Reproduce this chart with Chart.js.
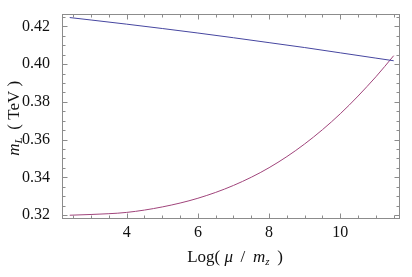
<!DOCTYPE html>
<html>
<head>
<meta charset="utf-8">
<script src="https://cdn.jsdelivr.net/npm/chart.js@4/dist/chart.umd.min.js"></script>
<style>
html,body{margin:0;padding:0;background:#fff;}
#wrap{width:412px;height:277px;}
</style>
</head>
<body>
<div id="wrap"><canvas id="c" width="412" height="277"></canvas></div>
<script>
// Data
const xValues   = [2.4, 3, 4, 5, 6, 7, 8, 9, 10, 11, 11.5];
const blueLine  = [0.4247, 0.4234, 0.4212, 0.4189, 0.4165, 0.4140, 0.4114, 0.4088, 0.4060, 0.4032, 0.4018];
const redCurve  = [0.3199, 0.3203, 0.3214, 0.3243, 0.3289, 0.3357, 0.3451, 0.3577, 0.3737, 0.3933, 0.4045];
const xTicks    = [4, 6, 8, 10];
const yTicks    = [0.32, 0.34, 0.36, 0.38, 0.40, 0.42];
const xMinor    = [2.5, 3, 3.5, 4.5, 5, 5.5, 6.5, 7, 7.5, 8.5, 9, 9.5, 10.5, 11, 11.5];
const yMinor    = [0.325, 0.33, 0.335, 0.345, 0.35, 0.355, 0.365, 0.37, 0.375, 0.385, 0.39, 0.395, 0.405, 0.41, 0.415, 0.425];

const SERIF = '"Liberation Serif", "Times New Roman", serif';
const pts = ys => xValues.map((x, i) => ({x: x, y: ys[i]}));

const framePlugin = {
  id: 'frame',
  afterDraw(chart) {
    const ctx = chart.ctx, a = chart.chartArea;
    const xs = chart.scales.x, ys = chart.scales.y;
    ctx.save();
    ctx.strokeStyle = '#8c8c8c';
    ctx.lineWidth = 1;
    const L = Math.round(a.left) + 0.5, R = Math.round(a.right) - 0.5;
    const T = Math.round(a.top) + 0.5, B = Math.round(a.bottom) - 0.5;
    ctx.strokeRect(L, T, R - L, B - T);
    ctx.beginPath();
    const xt = (v, len) => {
      const p = Math.round(xs.getPixelForValue(v)) + 0.5;
      ctx.moveTo(p, B); ctx.lineTo(p, B - len);
      ctx.moveTo(p, T); ctx.lineTo(p, T + len);
    };
    const yt = (v, len) => {
      const p = Math.round(ys.getPixelForValue(v)) + 0.5;
      ctx.moveTo(L, p); ctx.lineTo(L + len, p);
      ctx.moveTo(R, p); ctx.lineTo(R - len, p);
    };
    xTicks.forEach(v => xt(v, 5));
    xMinor.forEach(v => xt(v, 3));
    yTicks.forEach(v => yt(v, 5));
    yMinor.forEach(v => yt(v, 3));
    ctx.stroke();

    // axis titles
    const drawRuns = (runs, cx, by) => {
      let w = 0;
      runs.forEach(r => { ctx.font = r.f; r.w = ctx.measureText(r.t).width; w += r.w; });
      let x = cx - w / 2;
      runs.forEach(r => { ctx.font = r.f; ctx.fillText(r.t, x, by + (r.dy || 0)); x += r.w; });
    };
    ctx.fillStyle = '#111';
    ctx.textBaseline = 'alphabetic';
    ctx.textAlign = 'left';
    const N = '17px ' + SERIF, I = 'italic 17px ' + SERIF, S = 'italic 11px ' + SERIF;
    drawRuns([
      {t: 'Log( ', f: N}, {t: 'μ', f: I}, {t: ' \u2009/\u2009 ', f: N},
      {t: 'm', f: I}, {t: 'z', f: S, dy: 3}, {t: ' \u2009)', f: N}
    ], (a.left + a.right) / 2 + 4, 262);
    ctx.translate(19, (a.top + a.bottom) / 2 + 2);
    ctx.rotate(-Math.PI / 2);
    drawRuns([
      {t: 'm', f: I}, {t: 'L', f: S, dy: 3}, {t: ' \u2009( TeV )', f: N}
    ], 0, 0);
    ctx.restore();
  }
};

new Chart(document.getElementById('c'), {
  type: 'scatter',
  data: {
    datasets: [
      {data: pts(blueLine), showLine: true, borderColor: '#4646a0', borderWidth: 1, pointRadius: 0, cubicInterpolationMode: 'monotone', fill: false},
      {data: pts(redCurve), showLine: true, borderColor: '#a0447b', borderWidth: 1, pointRadius: 0, cubicInterpolationMode: 'monotone', fill: false}
    ]
  },
  options: {
    responsive: false,
    animation: false,
    events: [],
    layout: {padding: {left: 0, right: 12, top: 11, bottom: 0}},
    plugins: {legend: {display: false}, tooltip: {enabled: false}, title: {display: false}},
    scales: {
      x: {
        type: 'linear', min: 2.183, max: 11.677,
        grid: {display: false}, border: {display: false},
        afterBuildTicks: s => { s.ticks = xTicks.map(v => ({value: v})); },
        afterFit: s => { s.height = 58; },
        ticks: {color: '#111', padding: -4, font: {family: SERIF, size: 16}, maxRotation: 0, autoSkip: false,
                callback: v => String(v)}
      },
      y: {
        type: 'linear', min: 0.3179, max: 0.4268,
        grid: {display: false}, border: {display: false},
        afterBuildTicks: s => { s.ticks = yTicks.map(v => ({value: v})); },
        afterFit: s => { s.width = 62; },
        ticks: {color: '#111', padding: 4, font: {family: SERIF, size: 16}, autoSkip: false,
                callback: v => v.toFixed(2)}
      }
    }
  },
  plugins: [framePlugin]
});
</script>
</body>
</html>
